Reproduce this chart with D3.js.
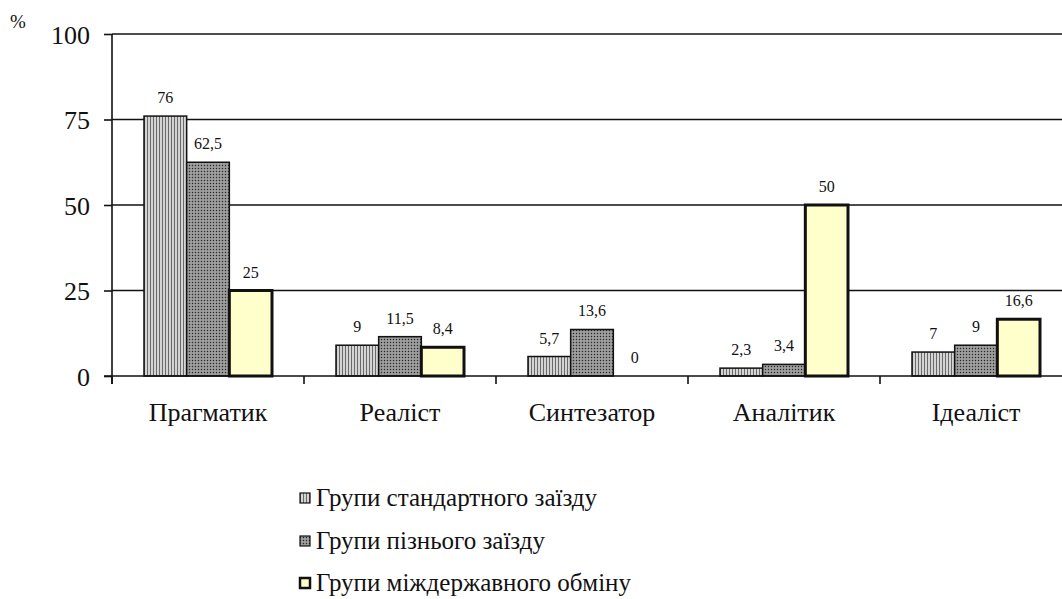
<!DOCTYPE html>
<html><head><meta charset="utf-8">
<script src="https://cdn.jsdelivr.net/npm/d3@7"></script>
<style>body{margin:0;background:#fff}svg{display:block}</style>
</head><body><svg id="c" width="1062" height="599"></svg>
<script>
const categories = ["Прагматик","Реаліст","Синтезатор","Аналітик","Ідеаліст"];
const seriesNames = ["Групи стандартного заїзду","Групи пізнього заїзду","Групи міждержавного обміну"];
const standard = [76, 9, 5.7, 2.3, 7];
const late = [62.5, 11.5, 13.6, 3.4, 9];
const exchange = [25, 8.4, 0, 50, 16.6];
const yTicks = [0, 25, 50, 75, 100];
const valueLabels = [["76","9","5,7","2,3","7"],["62,5","11,5","13,6","3,4","9"],["25","8,4","0","50","16,6"]];
const seriesValues = [standard, late, exchange];
const FONTSTYLE = "font-family:'Liberation Serif',serif";

const svg = d3.select("#c");
const defs = svg.append("defs");
const p1 = defs.append("pattern").attr("id","pStripe").attr("patternUnits","userSpaceOnUse").attr("width",3).attr("height",4);
p1.append("rect").attr("width",3).attr("height",4).attr("fill","#d4d4d4");
p1.append("rect").attr("width",1).attr("height",4).attr("fill","#6a6a6a");
const p2 = defs.append("pattern").attr("id","pDots").attr("patternUnits","userSpaceOnUse").attr("width",3).attr("height",3);
p2.append("rect").attr("width",3).attr("height",3).attr("fill","#8c8c8c");
p2.append("rect").attr("x",0).attr("y",0).attr("width",1).attr("height",1).attr("fill","#2a2a2a");
p2.append("rect").attr("x",1.5).attr("y",1.5).attr("width",1).attr("height",1).attr("fill","#d8d8d8");
const fills = ["url(#pStripe)","url(#pDots)","#ffffcc"];
const strokes = [1.5, 1.5, 3];

const x0 = d3.scaleBand().domain(categories).range([112, 1072]).paddingInner(0).paddingOuter(0);
const groupW = x0.bandwidth()*2/3;
const x1 = d3.scaleBand().domain([0,1,2]).range([0, groupW]);
const y = d3.scaleLinear().domain([0,100]).range([376, 34]);

svg.append("g").selectAll("line").data(yTicks.filter(d=>d>0)).join("line")
  .attr("x1",112).attr("x2",1062).attr("y1",d=>y(d)).attr("y2",d=>y(d))
  .attr("stroke","#111").attr("stroke-width",1.6);

const ya = svg.append("g").attr("transform","translate(112,0)")
  .call(d3.axisLeft(y).tickValues(yTicks).tickSize(8).tickPadding(14));
ya.select(".domain").remove();
ya.selectAll("line").attr("stroke","#111").attr("stroke-width",1.6);
ya.selectAll("text").attr("font-size",26).attr("style",FONTSTYLE).attr("fill","#111").attr("dy","0.35em");
svg.append("line").attr("x1",112).attr("x2",112).attr("y1",y(100)).attr("y2",384).attr("stroke","#111").attr("stroke-width",1.6);
svg.append("text").attr("x",10).attr("y",28).attr("font-size",19).attr("style",FONTSTYLE).attr("fill","#111").text("%");

categories.forEach((c,ci)=>{
  const gx = x0(c) + (x0.bandwidth()-groupW)/2;
  seriesValues.forEach((vals,si)=>{
    const v = vals[ci];
    if (v > 0) {
      svg.append("rect").attr("x",gx+x1(si)).attr("y",y(v)).attr("width",x1.bandwidth()).attr("height",y(0)-y(v))
        .attr("fill",fills[si]).attr("stroke","#111").attr("stroke-width",strokes[si]);
    }
    svg.append("text").attr("x",gx+x1(si)+x1.bandwidth()/2).attr("y",y(v)-13)
      .attr("text-anchor","middle").attr("font-size",16).attr("style",FONTSTYLE).attr("fill","#111").text(valueLabels[si][ci]);
  });
});

svg.append("line").attr("x1",104).attr("x2",1062).attr("y1",y(0)).attr("y2",y(0)).attr("stroke","#111").attr("stroke-width",1.6);
const bounds = categories.map(c=>x0(c)).concat([x0.range()[1]]);
svg.append("g").selectAll("line").data(bounds).join("line")
  .attr("x1",d=>d).attr("x2",d=>d).attr("y1",y(0)).attr("y2",y(0)+8).attr("stroke","#111").attr("stroke-width",1.6);
svg.append("g").selectAll("text").data(categories).join("text")
  .attr("x",d=>x0(d)+x0.bandwidth()/2).attr("y",421).attr("text-anchor","middle").attr("font-size",26).attr("style",FONTSTYLE).attr("fill","#111").text(d=>d);

const lg = svg.append("g");
seriesNames.forEach((n,i)=>{
  const cy = [498, 541, 583][i];
  lg.append("rect").attr("x",300).attr("y",cy-5).attr("width",10).attr("height",10)
    .attr("fill",fills[i]).attr("stroke","#111").attr("stroke-width",i===2?2.5:1.2);
  lg.append("text").attr("x",316).attr("y",cy+8).attr("font-size",25).attr("style",FONTSTYLE).attr("fill","#111").text(n);
});
</script></body></html>
